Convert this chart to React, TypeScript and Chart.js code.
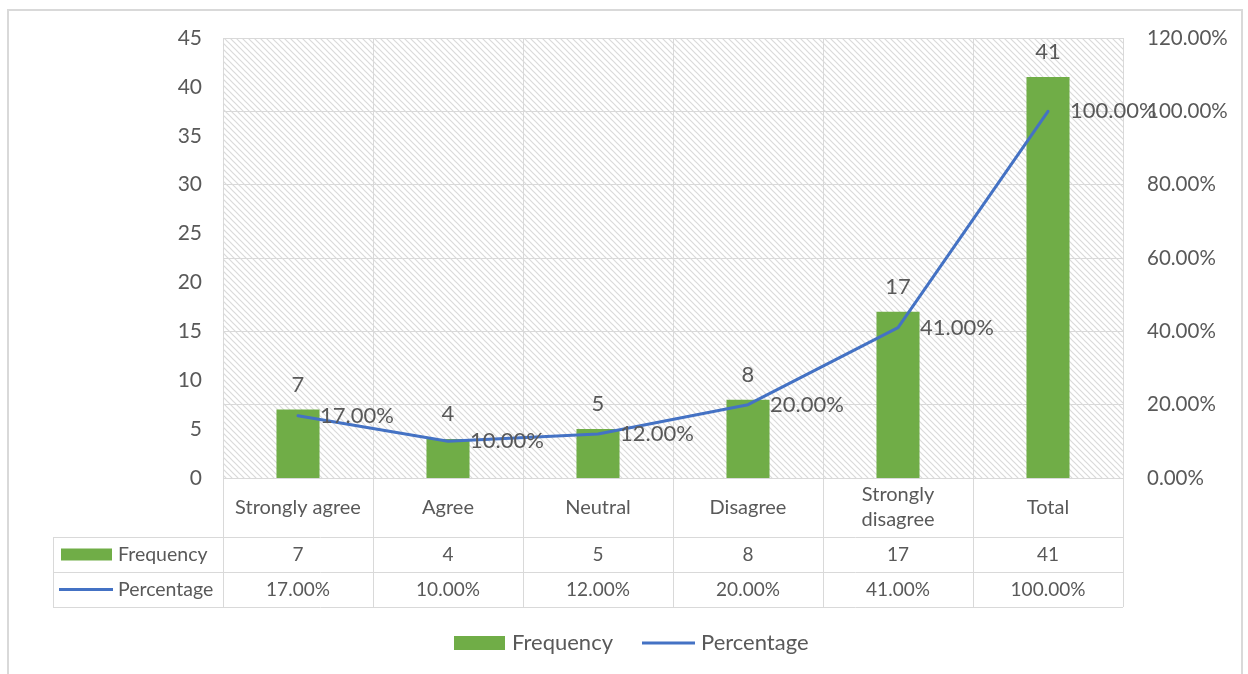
import React, { useEffect, useRef } from "react";
import { Chart, registerables } from "chart.js";

Chart.register(...registerables);

const categories = ["Strongly agree", "Agree", "Neutral", "Disagree", "Strongly disagree", "Total"];
const categoryLines = [["Strongly agree"], ["Agree"], ["Neutral"], ["Disagree"], ["Strongly", "disagree"], ["Total"]];
const frequency = [7, 4, 5, 8, 17, 41];
const percentage = [17, 10, 12, 20, 41, 100];
const seriesNames = ["Frequency", "Percentage"];

const leftMax = 45;
const leftStep = 5;
const rightMax = 120;
const rightStep = 20;

const GREEN = "#70AD47";
const BLUE = "#4472C4";
const TEXT = "#595959";
const GRID = "#D9D9D9";
const FONT = 'Lato, "Open Sans", "Liberation Sans", sans-serif';

const pct = (v: number) => `${Number(v).toFixed(2)}%`;

function makeHatch(): CanvasPattern | string {
  const c = document.createElement("canvas");
  c.width = 6;
  c.height = 6;
  const g = c.getContext("2d");
  if (!g) return "#fff";
  g.fillStyle = "#ffffff";
  g.fillRect(0, 0, 6, 6);
  g.strokeStyle = "#DADADA";
  g.lineWidth = 1.2;
  for (const off of [-6, 0, 6]) {
    g.beginPath();
    g.moveTo(off - 3, -3);
    g.lineTo(off + 9, 9);
    g.stroke();
  }
  const p = g.createPattern(c, "repeat");
  return p || "#fff";
}

const decorPlugin = {
  id: "decor",
  beforeDraw(chart: any) {
    const { ctx, chartArea: a, width, height } = chart;
    ctx.save();
    ctx.fillStyle = "#ffffff";
    ctx.fillRect(0, 0, width, height);
    ctx.strokeStyle = "#D9D9D9";
    ctx.lineWidth = 2;
    ctx.strokeRect(8, 10, 1234, height + 20);
    ctx.fillStyle = makeHatch();
    ctx.fillRect(a.left, a.top, a.right - a.left, a.bottom - a.top);
    ctx.restore();
  },
  beforeDatasetsDraw(chart: any) {
    const { ctx, chartArea: a } = chart;
    const n = categories.length;
    const w = (a.right - a.left) / n;
    ctx.save();
    ctx.strokeStyle = GRID;
    ctx.lineWidth = 1;
    for (let i = 0; i <= n; i++) {
      const xx = Math.round(a.left + i * w) + 0.5;
      ctx.beginPath();
      ctx.moveTo(xx, a.top);
      ctx.lineTo(xx, 607);
      ctx.stroke();
    }
    ctx.restore();
  },
  afterDatasetsDraw(chart: any) {
    const { ctx } = chart;
    ctx.save();
    ctx.fillStyle = TEXT;
    ctx.font = `22px ${FONT}`;
    ctx.textBaseline = "middle";
    const bars = chart.getDatasetMeta(0).data;
    ctx.textAlign = "center";
    bars.forEach((b: any, i: number) => {
      ctx.fillText(String(frequency[i]), b.x, b.y - 25);
    });
    const pts = chart.getDatasetMeta(1).data;
    ctx.textAlign = "left";
    pts.forEach((p: any, i: number) => {
      ctx.fillText(pct(percentage[i]), p.x + 22, p.y);
    });
    ctx.restore();
  },
  afterDraw(chart: any) {
    const { ctx, chartArea: a } = chart;
    const n = categories.length;
    const w = (a.right - a.left) / n;
    const tableLeft = 53;
    const rowY = [a.bottom, 537, 572, 607];
    ctx.save();
    ctx.strokeStyle = GRID;
    ctx.lineWidth = 1;
    for (let r = 1; r < rowY.length; r++) {
      const yy = rowY[r] + 0.5;
      ctx.beginPath();
      ctx.moveTo(tableLeft, yy);
      ctx.lineTo(a.right, yy);
      ctx.stroke();
    }
    ctx.beginPath();
    ctx.moveTo(tableLeft + 0.5, rowY[1]);
    ctx.lineTo(tableLeft + 0.5, rowY[3]);
    ctx.stroke();

    ctx.fillStyle = TEXT;
    ctx.textBaseline = "middle";
    ctx.textAlign = "center";
    ctx.font = `20px ${FONT}`;
    const headMid = (rowY[0] + rowY[1]) / 2;
    categoryLines.forEach((lines, i) => {
      const cx = a.left + (i + 0.5) * w;
      const lh = 25;
      const start = headMid - ((lines.length - 1) * lh) / 2;
      lines.forEach((t, j) => ctx.fillText(t, cx, start + j * lh));
    });
    ctx.font = `19px ${FONT}`;
    const fMid = (rowY[1] + rowY[2]) / 2;
    const pMid = (rowY[2] + rowY[3]) / 2;
    frequency.forEach((v, i) => {
      const cx = a.left + (i + 0.5) * w;
      ctx.fillText(String(v), cx, fMid);
      ctx.fillText(pct(percentage[i]), cx, pMid);
    });
    // series keys in the table
    ctx.fillStyle = GREEN;
    ctx.fillRect(61, fMid - 6, 51, 12);
    ctx.strokeStyle = BLUE;
    ctx.lineWidth = 3;
    ctx.beginPath();
    ctx.moveTo(59, pMid);
    ctx.lineTo(113, pMid);
    ctx.stroke();
    ctx.fillStyle = TEXT;
    ctx.textAlign = "left";
    ctx.font = `19.5px ${FONT}`;
    ctx.fillText(seriesNames[0], 118, fMid);
    ctx.fillText(seriesNames[1], 118, pMid);

    // legend
    const ly = 643;
    ctx.fillStyle = GREEN;
    ctx.fillRect(454, ly - 7, 51, 14);
    ctx.strokeStyle = BLUE;
    ctx.lineWidth = 3;
    ctx.beginPath();
    ctx.moveTo(642, ly);
    ctx.lineTo(695, ly);
    ctx.stroke();
    ctx.fillStyle = TEXT;
    ctx.font = `22px ${FONT}`;
    ctx.fillText(seriesNames[0], 512, ly);
    ctx.fillText(seriesNames[1], 701, ly);
    ctx.restore();
  },
};

export default function App() {
  const ref = useRef<HTMLCanvasElement | null>(null);
  useEffect(() => {
    if (!ref.current) return;
    const chart = new Chart(ref.current, {
      type: "bar",
      data: {
        labels: categories,
        datasets: [
          {
            type: "bar",
            label: seriesNames[0],
            data: frequency,
            backgroundColor: GREEN,
            yAxisID: "y",
            categoryPercentage: 1,
            barPercentage: 0.287,
            order: 2,
          },
          {
            type: "line",
            label: seriesNames[1],
            data: percentage,
            borderColor: BLUE,
            backgroundColor: BLUE,
            borderWidth: 3,
            pointRadius: 0,
            tension: 0,
            borderCapStyle: "round",
            borderJoinStyle: "round",
            yAxisID: "y1",
            order: 1,
          },
        ],
      } as any,
      options: {
        responsive: false,
        animation: false,
        layout: { padding: { top: 38, bottom: 196, left: 0, right: 0 } },
        plugins: { legend: { display: false }, tooltip: { enabled: false } },
        scales: {
          x: { display: false, offset: true },
          y: {
            position: "left",
            min: 0,
            max: leftMax,
            ticks: { stepSize: leftStep, padding: 21, color: TEXT, font: { family: FONT, size: 21 } },
            grid: { display: false, drawTicks: false },
            border: { display: false },
            afterFit: (s: any) => {
              s.width = 223;
            },
          },
          y1: {
            position: "right",
            min: 0,
            max: rightMax,
            ticks: {
              stepSize: rightStep,
              padding: 24,
              color: TEXT,
              font: { family: FONT, size: 20.5 },
              callback: (v: any) => pct(v),
            },
            grid: { color: GRID, lineWidth: 1, drawTicks: false },
            border: { display: false },
            afterFit: (s: any) => {
              s.width = 125;
            },
          },
        },
      } as any,
      plugins: [decorPlugin],
    });
    return () => chart.destroy();
  }, []);
  return (
    <div style={{ position: "fixed", left: 0, top: 0, width: 1248, height: 674, background: "#fff" }}>
      <canvas ref={ref} width={1248} height={674} style={{ width: 1248, height: 674, display: "block" }} />
    </div>
  );
}
